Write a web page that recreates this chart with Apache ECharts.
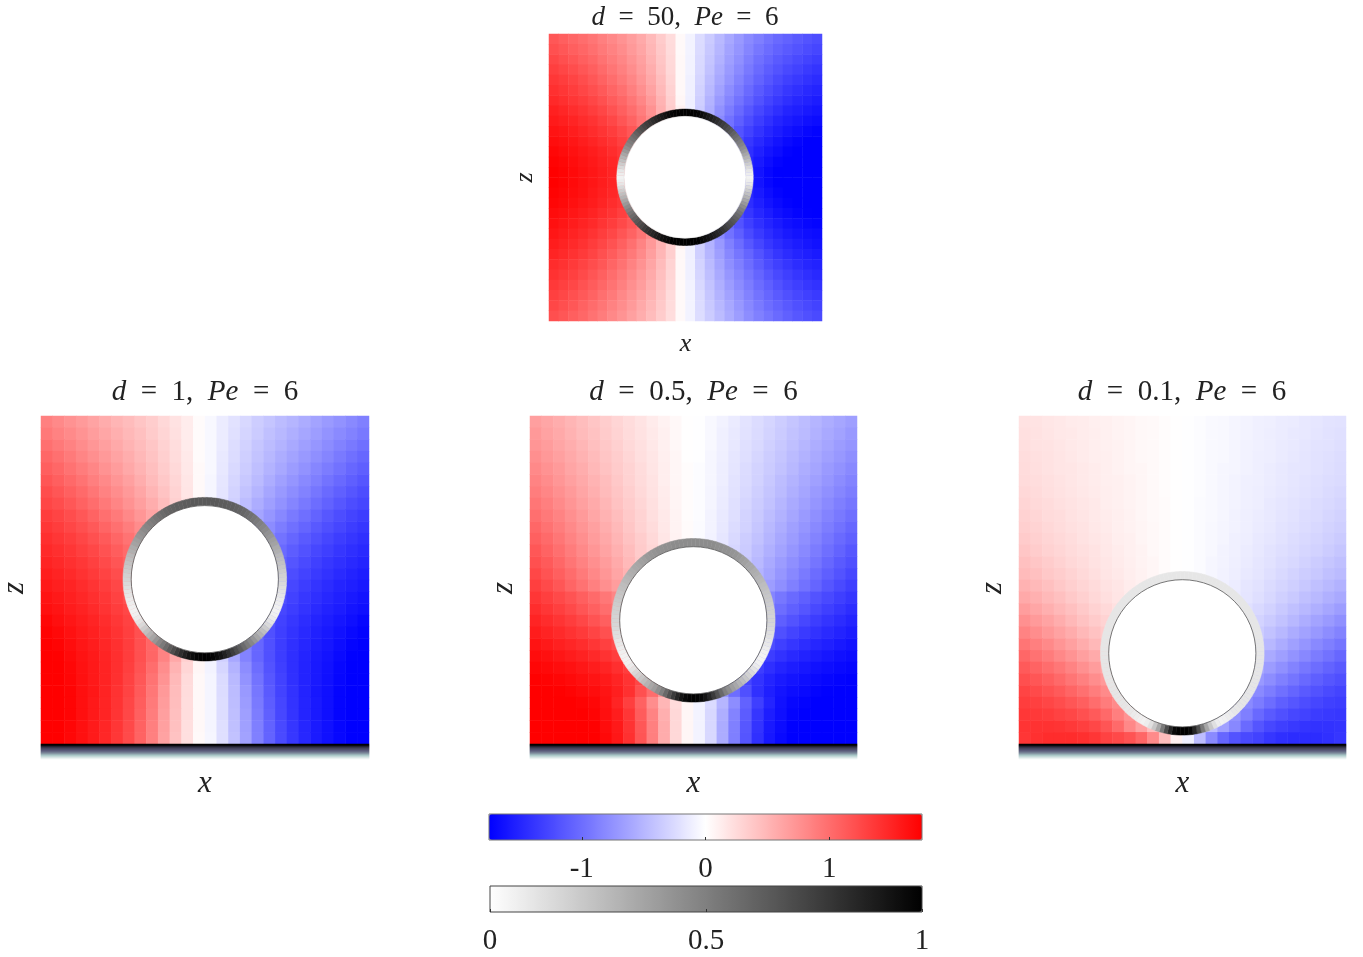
<!DOCTYPE html>
<html>
<head>
<meta charset="utf-8">
<title>d, Pe panels</title>
<script src="https://cdn.jsdelivr.net/npm/echarts@6/dist/echarts.min.js"></script>
<style>
  html, body { margin: 0; padding: 0; background: #fff; }
  #chart { width: 1363px; height: 957px; }
</style>
</head>
<body>
<div id="chart"></div>
<script>
// values, rows run top to bottom, red is positive
// the zeros sit under the white disc and never show
const fieldD50 = [
  [1.15,1.1,1.05,1,.95,.88,.82,.75,.67,.59,.48,.36,.24,.04,-.08,-.24,-.36,-.48,-.6,-.7,-.8,-.88,-.96,-1.03,-1.08,-1.13,-1.18,-1.22],
  [1.2,1.15,1.1,1.05,.99,.92,.86,.79,.7,.62,.5,.38,.25,.04,-.08,-.25,-.38,-.5,-.63,-.73,-.84,-.93,-1.01,-1.08,-1.13,-1.18,-1.23,-1.27],
  [1.26,1.21,1.16,1.1,1.04,.97,.9,.83,.74,.65,.53,.4,.26,.05,-.09,-.26,-.4,-.53,-.66,-.76,-.88,-.98,-1.06,-1.13,-1.19,-1.24,-1.29,-1.33],
  [1.32,1.27,1.22,1.16,1.1,1.02,.95,.87,.78,.68,.56,.42,.27,.05,-.09,-.27,-.42,-.56,-.69,-.8,-.92,-1.02,-1.11,-1.18,-1.25,-1.3,-1.35,-1.39],
  [1.37,1.33,1.28,1.22,1.15,1.08,1,.92,.83,.72,.6,.45,.29,.05,-.1,-.29,-.45,-.6,-.73,-.85,-.97,-1.07,-1.16,-1.24,-1.31,-1.36,-1.41,-1.45],
  [1.42,1.38,1.33,1.27,1.21,1.14,1.06,.98,.88,.77,.64,.48,.31,.05,-.1,-.31,-.48,-.64,-.78,-.9,-1.02,-1.13,-1.22,-1.3,-1.37,-1.42,-1.47,-1.5],
  [1.47,1.43,1.38,1.33,1.27,1.2,1.12,1.04,.94,.83,.69,.52,.33,.06,-.11,-.33,-.52,-.69,-.84,-.96,-1.08,-1.19,-1.28,-1.36,-1.43,-1.48,-1.52,-1.56],
  [1.53,1.49,1.44,1.39,1.33,1.27,1.19,1.1,1,.89,.75,.55,.35,.1,-.1,-.35,-.55,-.75,-.9,-1.03,-1.15,-1.26,-1.35,-1.43,-1.5,-1.54,-1.58,-1.61],
  [1.57,1.54,1.5,1.45,1.4,1.33,1.26,1.17,1.07,.95,.8,.6,.38,.12,-.12,-.38,-.6,-.8,-.97,-1.1,-1.22,-1.33,-1.42,-1.5,-1.56,-1.6,-1.64,-1.67],
  [1.62,1.59,1.55,1.5,1.45,1.39,1.33,1.25,1.15,1.02,.82,.6,0,0,0,0,-.6,-.85,-1.02,-1.18,-1.3,-1.4,-1.49,-1.56,-1.62,-1.66,-1.7,-1.73],
  [1.66,1.63,1.6,1.55,1.5,1.45,1.39,1.31,1.22,1.08,.88,0,0,0,0,0,0,-.88,-1.1,-1.24,-1.37,-1.47,-1.55,-1.62,-1.68,-1.72,-1.75,-1.75],
  [1.7,1.67,1.63,1.59,1.55,1.5,1.44,1.37,1.25,1.1,0,0,0,0,0,0,0,0,-1.12,-1.28,-1.43,-1.53,-1.61,-1.67,-1.73,-1.75,-1.75,-1.75],
  [1.73,1.7,1.66,1.62,1.58,1.53,1.48,1.41,1.28,1.15,0,0,0,0,0,0,0,0,-1.15,-1.3,-1.48,-1.58,-1.66,-1.72,-1.75,-1.75,-1.75,-1.75],
  [1.75,1.72,1.68,1.64,1.6,1.55,1.5,1.42,1.3,0,0,0,0,0,0,0,0,0,0,-1.32,-1.46,-1.62,-1.7,-1.75,-1.75,-1.75,-1.75,-1.75],
  [1.75,1.72,1.68,1.64,1.6,1.55,1.5,1.42,1.3,0,0,0,0,0,0,0,0,0,0,-1.32,-1.46,-1.62,-1.7,-1.75,-1.75,-1.75,-1.75,-1.75],
  [1.73,1.7,1.67,1.63,1.58,1.53,1.48,1.42,1.3,1.15,0,0,0,0,0,0,0,0,-1.15,-1.32,-1.48,-1.58,-1.66,-1.72,-1.75,-1.75,-1.75,-1.75],
  [1.71,1.68,1.64,1.6,1.56,1.5,1.44,1.38,1.26,1.12,0,0,0,0,0,0,0,0,-1.12,-1.28,-1.44,-1.54,-1.62,-1.68,-1.73,-1.75,-1.75,-1.75],
  [1.67,1.64,1.6,1.56,1.51,1.45,1.39,1.32,1.2,1.06,.85,0,0,0,0,0,0,-.85,-1.08,-1.25,-1.38,-1.48,-1.56,-1.63,-1.68,-1.72,-1.74,-1.75],
  [1.64,1.6,1.56,1.51,1.46,1.39,1.33,1.25,1.15,1.02,.82,0,0,0,0,0,0,-.82,-1.05,-1.18,-1.32,-1.42,-1.5,-1.57,-1.63,-1.67,-1.7,-1.72],
  [1.6,1.56,1.51,1.46,1.4,1.33,1.26,1.17,1.07,.95,.8,.6,0,0,0,0,-.6,-.8,-.97,-1.1,-1.24,-1.35,-1.44,-1.52,-1.58,-1.62,-1.65,-1.67],
  [1.55,1.51,1.46,1.41,1.34,1.27,1.19,1.09,.98,.85,.7,.52,.33,.08,-.1,-.33,-.52,-.7,-.87,-1.01,-1.15,-1.27,-1.37,-1.45,-1.51,-1.56,-1.6,-1.63],
  [1.5,1.46,1.41,1.35,1.28,1.2,1.12,1.02,.92,.8,.66,.5,.33,.05,-.1,-.33,-.5,-.66,-.82,-.94,-1.06,-1.18,-1.29,-1.38,-1.45,-1.5,-1.54,-1.57],
  [1.45,1.41,1.35,1.29,1.22,1.15,1.06,.97,.86,.75,.62,.47,.3,.05,-.1,-.3,-.47,-.62,-.77,-.88,-1,-1.12,-1.23,-1.31,-1.38,-1.44,-1.49,-1.52],
  [1.41,1.36,1.31,1.24,1.17,1.09,1,.91,.81,.7,.58,.44,.29,.05,-.1,-.29,-.44,-.58,-.72,-.83,-.95,-1.06,-1.16,-1.25,-1.32,-1.38,-1.43,-1.47],
  [1.36,1.31,1.26,1.19,1.12,1.04,.96,.87,.77,.67,.55,.41,.27,.04,-.09,-.27,-.41,-.55,-.68,-.79,-.9,-1.01,-1.1,-1.19,-1.26,-1.32,-1.37,-1.41],
  [1.31,1.26,1.2,1.14,1.07,.99,.91,.82,.73,.63,.52,.39,.25,.04,-.08,-.25,-.39,-.52,-.64,-.75,-.86,-.96,-1.05,-1.13,-1.2,-1.26,-1.31,-1.35],
  [1.26,1.21,1.15,1.08,1.01,.94,.86,.78,.69,.59,.49,.37,.24,.04,-.08,-.24,-.37,-.49,-.6,-.71,-.82,-.91,-1,-1.07,-1.14,-1.2,-1.25,-1.29],
  [1.21,1.16,1.1,1.04,.97,.9,.82,.74,.65,.56,.46,.35,.23,.04,-.08,-.23,-.35,-.46,-.57,-.67,-.78,-.87,-.95,-1.02,-1.09,-1.15,-1.2,-1.24]
];
const fieldD1 = [
  [.87,.81,.75,.69,.63,.57,.51,.46,.4,.34,.27,.2,.13,.03,-.05,-.13,-.2,-.27,-.34,-.4,-.46,-.51,-.57,-.63,-.69,-.75,-.81,-.87],
  [.92,.86,.8,.74,.67,.61,.55,.49,.43,.36,.29,.21,.13,.03,-.05,-.13,-.21,-.29,-.36,-.43,-.49,-.55,-.61,-.67,-.74,-.8,-.86,-.92],
  [.98,.92,.86,.79,.72,.66,.59,.52,.46,.39,.31,.23,.14,.03,-.05,-.14,-.23,-.31,-.39,-.46,-.52,-.59,-.66,-.72,-.79,-.86,-.92,-.98],
  [1.04,.98,.91,.84,.77,.7,.63,.56,.49,.41,.33,.24,.15,.03,-.05,-.15,-.24,-.33,-.41,-.49,-.56,-.63,-.7,-.77,-.84,-.91,-.98,-1.04],
  [1.1,1.04,.97,.9,.83,.75,.68,.6,.52,.44,.35,.26,.16,.04,-.05,-.16,-.26,-.35,-.44,-.52,-.6,-.68,-.75,-.83,-.9,-.97,-1.04,-1.1],
  [1.16,1.1,1.03,.96,.88,.81,.73,.65,.56,.47,.38,.28,.17,.04,-.06,-.17,-.28,-.38,-.47,-.56,-.65,-.73,-.81,-.88,-.96,-1.03,-1.1,-1.16],
  [1.22,1.16,1.09,1.02,.94,.86,.78,.7,.61,.51,.41,.3,.18,.04,-.06,-.18,-.3,-.41,-.51,-.61,-.7,-.78,-.86,-.94,-1.02,-1.09,-1.16,-1.22],
  [1.27,1.22,1.15,1.08,1,.92,.84,.75,.66,.56,.45,.32,.2,.06,-.08,-.2,-.32,-.45,-.56,-.66,-.75,-.84,-.92,-1,-1.08,-1.15,-1.22,-1.27],
  [1.33,1.28,1.22,1.15,1.07,.99,.91,.82,.72,.62,.5,.35,.2,.06,-.08,-.2,-.35,-.5,-.62,-.72,-.82,-.91,-.99,-1.07,-1.15,-1.22,-1.28,-1.33],
  [1.38,1.33,1.27,1.21,1.14,1.06,.98,.89,.79,.67,.52,.36,.2,0,0,-.2,-.36,-.52,-.67,-.79,-.89,-.98,-1.06,-1.14,-1.21,-1.27,-1.33,-1.38],
  [1.43,1.38,1.33,1.27,1.2,1.13,1.05,.96,.85,.72,.56,0,0,0,0,0,0,-.56,-.72,-.85,-.96,-1.05,-1.13,-1.2,-1.27,-1.33,-1.38,-1.43],
  [1.47,1.43,1.38,1.32,1.26,1.19,1.11,1.02,.9,.75,0,0,0,0,0,0,0,0,-.75,-.9,-1.02,-1.11,-1.19,-1.26,-1.32,-1.38,-1.43,-1.47],
  [1.51,1.47,1.42,1.37,1.31,1.24,1.17,1.08,.95,0,0,0,0,0,0,0,0,0,0,-.95,-1.08,-1.17,-1.24,-1.31,-1.37,-1.42,-1.47,-1.51],
  [1.55,1.51,1.46,1.41,1.35,1.29,1.22,1.13,1,0,0,0,0,0,0,0,0,0,0,-1,-1.13,-1.22,-1.29,-1.35,-1.41,-1.46,-1.51,-1.55],
  [1.58,1.54,1.5,1.45,1.39,1.33,1.26,1.17,1.05,0,0,0,0,0,0,0,0,0,0,-1.05,-1.17,-1.26,-1.33,-1.39,-1.45,-1.5,-1.54,-1.58],
  [1.62,1.58,1.53,1.48,1.43,1.37,1.3,1.21,1.1,0,0,0,0,0,0,0,0,0,0,-1.1,-1.21,-1.3,-1.37,-1.43,-1.48,-1.53,-1.58,-1.62],
  [1.65,1.61,1.56,1.52,1.46,1.4,1.33,1.26,1.14,1,0,0,0,0,0,0,0,0,-1,-1.14,-1.26,-1.33,-1.4,-1.46,-1.52,-1.56,-1.61,-1.65],
  [1.7,1.65,1.6,1.55,1.5,1.44,1.37,1.3,1.18,1.05,0,0,0,0,0,0,0,0,-1.05,-1.18,-1.3,-1.37,-1.44,-1.5,-1.55,-1.6,-1.65,-1.7],
  [1.73,1.69,1.63,1.58,1.53,1.47,1.4,1.32,1.2,1.06,.9,0,0,0,0,0,0,-.9,-1.06,-1.2,-1.32,-1.4,-1.47,-1.53,-1.58,-1.63,-1.69,-1.73],
  [1.75,1.72,1.66,1.6,1.55,1.49,1.42,1.33,1.2,1.05,.88,.65,0,0,0,0,-.65,-.88,-1.05,-1.2,-1.33,-1.42,-1.49,-1.55,-1.6,-1.66,-1.72,-1.75],
  [1.75,1.74,1.68,1.62,1.57,1.5,1.43,1.33,1.2,1.05,.85,.6,.32,.08,-.08,-.32,-.6,-.85,-1.05,-1.2,-1.33,-1.43,-1.5,-1.57,-1.62,-1.68,-1.74,-1.75],
  [1.75,1.75,1.7,1.63,1.58,1.51,1.43,1.32,1.18,1,.78,.52,.28,.06,-.08,-.28,-.52,-.78,-1,-1.18,-1.32,-1.43,-1.51,-1.58,-1.63,-1.7,-1.75,-1.75],
  [1.75,1.75,1.71,1.64,1.58,1.51,1.42,1.3,1.15,.96,.74,.48,.25,.05,-.07,-.25,-.48,-.74,-.96,-1.15,-1.3,-1.42,-1.51,-1.58,-1.64,-1.71,-1.75,-1.75],
  [1.75,1.75,1.72,1.65,1.59,1.51,1.41,1.29,1.13,.93,.7,.46,.24,.05,-.07,-.24,-.46,-.7,-.93,-1.13,-1.29,-1.41,-1.51,-1.59,-1.65,-1.72,-1.75,-1.75],
  [1.75,1.75,1.72,1.65,1.58,1.5,1.4,1.27,1.11,.91,.68,.45,.23,.05,-.07,-.23,-.45,-.68,-.91,-1.11,-1.27,-1.4,-1.5,-1.58,-1.65,-1.72,-1.75,-1.75],
  [1.75,1.75,1.72,1.65,1.58,1.5,1.39,1.26,1.09,.89,.66,.44,.23,.05,-.07,-.23,-.44,-.66,-.89,-1.09,-1.26,-1.39,-1.5,-1.58,-1.65,-1.72,-1.75,-1.75],
  [1.75,1.75,1.71,1.64,1.57,1.49,1.38,1.25,1.08,.88,.65,.43,.22,.05,-.07,-.22,-.43,-.65,-.88,-1.08,-1.25,-1.38,-1.49,-1.57,-1.64,-1.71,-1.75,-1.75],
  [1.75,1.75,1.7,1.64,1.57,1.48,1.37,1.24,1.07,.87,.64,.42,.22,.04,-.06,-.22,-.42,-.64,-.87,-1.07,-1.24,-1.37,-1.48,-1.57,-1.64,-1.7,-1.75,-1.75]
];
const fieldD05 = [
  [.66,.61,.56,.51,.45,.4,.34,.29,.24,.19,.14,.09,.05,.01,-.01,-.05,-.09,-.14,-.19,-.24,-.29,-.34,-.4,-.45,-.51,-.56,-.61,-.66],
  [.7,.64,.59,.53,.47,.42,.36,.3,.25,.2,.15,.1,.05,.01,-.01,-.05,-.1,-.15,-.2,-.25,-.3,-.36,-.42,-.47,-.53,-.59,-.64,-.7],
  [.73,.68,.62,.56,.5,.44,.38,.32,.26,.21,.16,.1,.05,.01,-.01,-.05,-.1,-.16,-.21,-.26,-.32,-.38,-.44,-.5,-.56,-.62,-.68,-.73],
  [.77,.71,.65,.59,.53,.47,.4,.34,.28,.22,.17,.11,.06,.01,-.01,-.06,-.11,-.17,-.22,-.28,-.34,-.4,-.47,-.53,-.59,-.65,-.71,-.77],
  [.81,.75,.69,.62,.56,.49,.42,.36,.3,.24,.18,.12,.06,.02,-.02,-.06,-.12,-.18,-.24,-.3,-.36,-.42,-.49,-.56,-.62,-.69,-.75,-.81],
  [.85,.79,.72,.65,.59,.52,.45,.38,.31,.25,.19,.12,.06,.02,-.02,-.06,-.12,-.19,-.25,-.31,-.38,-.45,-.52,-.59,-.65,-.72,-.79,-.85],
  [.89,.83,.76,.69,.62,.55,.47,.4,.33,.26,.2,.13,.07,.02,-.02,-.07,-.13,-.2,-.26,-.33,-.4,-.47,-.55,-.62,-.69,-.76,-.83,-.89],
  [.94,.88,.8,.73,.65,.58,.5,.42,.35,.28,.21,.14,.07,.02,-.02,-.07,-.14,-.21,-.28,-.35,-.42,-.5,-.58,-.65,-.73,-.8,-.88,-.94],
  [.99,.92,.85,.77,.69,.61,.53,.45,.37,.3,.22,.15,.08,.02,-.02,-.08,-.15,-.22,-.3,-.37,-.45,-.53,-.61,-.69,-.77,-.85,-.92,-.99],
  [1.04,.97,.89,.81,.73,.65,.56,.48,.39,.31,.24,.16,.08,.03,-.03,-.08,-.16,-.24,-.31,-.39,-.48,-.56,-.65,-.73,-.81,-.89,-.97,-1.04],
  [1.09,1.02,.94,.85,.77,.68,.6,.51,.42,.34,.26,.17,.09,.03,-.03,-.09,-.17,-.26,-.34,-.42,-.51,-.6,-.68,-.77,-.85,-.94,-1.02,-1.09],
  [1.15,1.07,.99,.9,.81,.72,.63,.54,.45,.36,.28,.19,.1,.03,-.03,-.1,-.19,-.28,-.36,-.45,-.54,-.63,-.72,-.81,-.9,-.99,-1.07,-1.15],
  [1.2,1.13,1.04,.95,.86,.77,.68,.58,.48,.38,.29,.2,0,0,0,0,-.2,-.29,-.38,-.48,-.58,-.68,-.77,-.86,-.95,-1.04,-1.13,-1.2],
  [1.26,1.18,1.1,1.01,.91,.82,.72,.62,.52,.42,0,0,0,0,0,0,0,0,-.42,-.52,-.62,-.72,-.82,-.91,-1.01,-1.1,-1.18,-1.26],
  [1.32,1.24,1.16,1.06,.97,.87,.77,.67,.57,.46,0,0,0,0,0,0,0,0,-.46,-.57,-.67,-.77,-.87,-.97,-1.06,-1.16,-1.24,-1.32],
  [1.38,1.32,1.25,1.18,1.1,1.02,.93,.83,.72,0,0,0,0,0,0,0,0,0,0,-.72,-.83,-.93,-1.02,-1.1,-1.18,-1.25,-1.32,-1.38],
  [1.44,1.38,1.32,1.25,1.17,1.09,1,.9,.78,0,0,0,0,0,0,0,0,0,0,-.78,-.9,-1,-1.09,-1.17,-1.25,-1.32,-1.38,-1.44],
  [1.5,1.45,1.39,1.33,1.26,1.18,1.1,1,.88,0,0,0,0,0,0,0,0,0,0,-.88,-1,-1.1,-1.18,-1.26,-1.33,-1.39,-1.45,-1.5],
  [1.56,1.51,1.46,1.41,1.35,1.28,1.2,1.1,.98,0,0,0,0,0,0,0,0,0,0,-.98,-1.1,-1.2,-1.28,-1.35,-1.41,-1.46,-1.51,-1.56],
  [1.62,1.58,1.53,1.49,1.44,1.38,1.31,1.22,1.1,0,0,0,0,0,0,0,0,0,0,-1.1,-1.22,-1.31,-1.38,-1.44,-1.49,-1.53,-1.58,-1.62],
  [1.67,1.64,1.6,1.56,1.52,1.47,1.41,1.33,1.22,1.1,0,0,0,0,0,0,0,0,-1.1,-1.22,-1.33,-1.41,-1.47,-1.52,-1.56,-1.6,-1.64,-1.67],
  [1.71,1.69,1.66,1.63,1.59,1.55,1.5,1.43,1.33,1.2,0,0,0,0,0,0,0,0,-1.2,-1.33,-1.43,-1.5,-1.55,-1.59,-1.63,-1.66,-1.69,-1.71],
  [1.74,1.73,1.71,1.68,1.65,1.61,1.57,1.5,1.4,1.27,1.1,0,0,0,0,0,0,-1.1,-1.27,-1.4,-1.5,-1.57,-1.61,-1.65,-1.68,-1.71,-1.73,-1.74],
  [1.75,1.75,1.74,1.72,1.69,1.66,1.61,1.54,1.42,1.2,1,.72,.4,.1,-.1,-.4,-.72,-1,-1.2,-1.42,-1.54,-1.61,-1.66,-1.69,-1.72,-1.74,-1.75,-1.75],
  [1.75,1.75,1.75,1.75,1.73,1.7,1.63,1.5,1.32,1.08,.78,.5,.25,.06,-.08,-.25,-.5,-.78,-1.08,-1.32,-1.5,-1.63,-1.7,-1.73,-1.75,-1.75,-1.75,-1.75],
  [1.75,1.75,1.75,1.75,1.75,1.72,1.65,1.55,1.38,1.12,.85,.55,.27,.06,-.08,-.27,-.55,-.85,-1.12,-1.38,-1.55,-1.65,-1.72,-1.75,-1.75,-1.75,-1.75,-1.75],
  [1.75,1.75,1.75,1.75,1.75,1.74,1.67,1.58,1.4,1.15,.87,.57,.27,.06,-.08,-.27,-.57,-.87,-1.15,-1.4,-1.58,-1.67,-1.74,-1.75,-1.75,-1.75,-1.75,-1.75],
  [1.75,1.75,1.75,1.75,1.75,1.75,1.69,1.59,1.42,1.17,.88,.57,.27,.06,-.08,-.27,-.57,-.88,-1.17,-1.42,-1.59,-1.69,-1.75,-1.75,-1.75,-1.75,-1.75,-1.75]
];
const fieldD01 = [
  [.2,.19,.17,.16,.14,.13,.11,.1,.08,.07,.05,.04,.02,.01,-.01,-.02,-.04,-.05,-.07,-.08,-.1,-.11,-.13,-.14,-.16,-.17,-.19,-.2],
  [.21,.2,.18,.16,.15,.13,.12,.1,.08,.07,.05,.04,.02,.01,-.01,-.02,-.04,-.05,-.07,-.08,-.1,-.12,-.13,-.15,-.16,-.18,-.2,-.21],
  [.22,.2,.19,.17,.15,.14,.12,.1,.09,.07,.05,.04,.02,.01,-.01,-.02,-.04,-.05,-.07,-.09,-.1,-.12,-.14,-.15,-.17,-.19,-.2,-.22],
  [.23,.21,.2,.18,.16,.14,.12,.11,.09,.07,.05,.04,.02,.01,-.01,-.02,-.04,-.05,-.07,-.09,-.11,-.12,-.14,-.16,-.18,-.2,-.21,-.23],
  [.24,.22,.2,.18,.17,.15,.13,.11,.09,.07,.06,.04,.02,.01,-.01,-.02,-.04,-.06,-.07,-.09,-.11,-.13,-.15,-.17,-.18,-.2,-.22,-.24],
  [.25,.23,.21,.19,.17,.15,.13,.11,.1,.08,.06,.04,.02,.01,-.01,-.02,-.04,-.06,-.08,-.1,-.11,-.13,-.15,-.17,-.19,-.21,-.23,-.25],
  [.27,.25,.22,.2,.18,.16,.14,.12,.1,.08,.06,.04,.02,.01,-.01,-.02,-.04,-.06,-.08,-.1,-.12,-.14,-.16,-.18,-.2,-.22,-.25,-.27],
  [.29,.26,.24,.21,.19,.17,.15,.12,.1,.08,.06,.04,.03,.01,-.01,-.03,-.04,-.06,-.08,-.1,-.12,-.15,-.17,-.19,-.21,-.24,-.26,-.29],
  [.31,.28,.25,.23,.2,.18,.15,.13,.11,.09,.06,.04,.03,.01,-.01,-.03,-.04,-.06,-.09,-.11,-.13,-.15,-.18,-.2,-.23,-.25,-.28,-.31],
  [.33,.3,.27,.24,.21,.19,.16,.14,.11,.09,.07,.05,.03,.01,-.01,-.03,-.05,-.07,-.09,-.11,-.14,-.16,-.19,-.21,-.24,-.27,-.3,-.33],
  [.36,.32,.29,.26,.23,.2,.17,.15,.12,.1,.07,.05,.03,.01,-.01,-.03,-.05,-.07,-.1,-.12,-.15,-.17,-.2,-.23,-.26,-.29,-.32,-.36],
  [.39,.35,.31,.28,.25,.22,.19,.16,.13,.1,.08,.05,.03,.01,-.01,-.03,-.05,-.08,-.1,-.13,-.16,-.19,-.22,-.25,-.28,-.31,-.35,-.39],
  [.43,.39,.35,.31,.27,.24,.2,.17,.14,.11,.08,.06,.03,.01,-.01,-.03,-.06,-.08,-.11,-.14,-.17,-.2,-.24,-.27,-.31,-.35,-.39,-.43],
  [.47,.43,.38,.34,.3,.26,.22,.18,.15,.12,.09,.06,.03,.01,-.01,-.03,-.06,-.09,-.12,-.15,-.18,-.22,-.26,-.3,-.34,-.38,-.43,-.47],
  [.53,.48,.43,.38,.33,.29,.25,.2,.17,.13,.1,.07,.04,.01,-.01,-.04,-.07,-.1,-.13,-.17,-.2,-.25,-.29,-.33,-.38,-.43,-.48,-.53],
  [.59,.54,.48,.43,.37,.32,.27,.22,.18,.14,.11,.08,0,0,0,0,-.08,-.11,-.14,-.18,-.22,-.27,-.32,-.37,-.43,-.48,-.54,-.59],
  [.67,.61,.55,.49,.43,.37,.31,.26,.21,.17,0,0,0,0,0,0,0,0,-.17,-.21,-.26,-.31,-.37,-.43,-.49,-.55,-.61,-.67],
  [.76,.69,.63,.56,.49,.42,.36,.3,.25,0,0,0,0,0,0,0,0,0,0,-.25,-.3,-.36,-.42,-.49,-.56,-.63,-.69,-.76],
  [.85,.78,.71,.64,.57,.49,.42,.35,.29,0,0,0,0,0,0,0,0,0,0,-.29,-.35,-.42,-.49,-.57,-.64,-.71,-.78,-.85],
  [.95,.88,.81,.73,.65,.57,.49,.41,.34,0,0,0,0,0,0,0,0,0,0,-.34,-.41,-.49,-.57,-.65,-.73,-.81,-.88,-.95],
  [1.04,.97,.9,.82,.74,.66,.58,.5,.42,0,0,0,0,0,0,0,0,0,0,-.42,-.5,-.58,-.66,-.74,-.82,-.9,-.97,-1.04],
  [1.13,1.07,1,.93,.85,.76,.68,.6,.5,0,0,0,0,0,0,0,0,0,0,-.5,-.6,-.68,-.76,-.85,-.93,-1,-1.07,-1.13],
  [1.21,1.16,1.1,1.03,.95,.87,.78,.7,.6,0,0,0,0,0,0,0,0,0,0,-.6,-.7,-.78,-.87,-.95,-1.03,-1.1,-1.16,-1.21],
  [1.28,1.24,1.19,1.13,1.06,.98,.89,.8,.7,.6,0,0,0,0,0,0,0,0,-.6,-.7,-.8,-.89,-.98,-1.06,-1.13,-1.19,-1.24,-1.28],
  [1.33,1.31,1.27,1.22,1.16,1.1,1,.9,.8,.68,.55,0,0,0,0,0,0,-.55,-.68,-.8,-.9,-1,-1.1,-1.16,-1.22,-1.27,-1.31,-1.33],
  [1.37,1.36,1.34,1.3,1.26,1.2,1.13,1.03,.88,.75,.62,.5,0,0,0,0,-.5,-.62,-.75,-.88,-1.03,-1.13,-1.2,-1.26,-1.3,-1.34,-1.36,-1.37],
  [1.39,1.41,1.41,1.39,1.36,1.32,1.26,1.17,1.02,.82,.65,.45,.2,.05,-.05,-.2,-.45,-.65,-.82,-1.02,-1.17,-1.26,-1.32,-1.36,-1.39,-1.41,-1.41,-1.39],
  [1.38,1.42,1.45,1.45,1.45,1.43,1.38,1.3,1.25,1.18,1.05,.8,.45,.1,-.1,-.45,-.8,-1.05,-1.18,-1.25,-1.3,-1.38,-1.43,-1.45,-1.45,-1.45,-1.42,-1.38]
];

// surface shading round each ring, every 3 degrees clockwise from the top, 0 white to 1 black
const ringD50 = [1,1,1,.99,.98,.96,.93,.9,.88,.85,.82,.79,.76,.73,.7,.66,.62,.58,.55,.51,.48,.44,.4,.35,.3,.25,.2,.15,.1,.07,.05,.07,.1,.15,.2,.25,.3,.35,.4,.45,.5,.54,.58,.62,.66,.69,.72,.76,.8,.83,.85,.88,.9,.93,.95,.97,1,1,1,1,1,1,1,1,1,.97,.95,.93,.9,.88,.85,.83,.8,.76,.72,.69,.66,.62,.58,.54,.5,.45,.4,.35,.3,.25,.2,.15,.1,.07,.05,.07,.1,.15,.2,.25,.3,.35,.4,.44,.48,.51,.55,.58,.62,.66,.7,.73,.76,.79,.82,.85,.88,.9,.93,.96,.98,.99,1,1];
const ringD1 = [.65,.65,.65,.65,.64,.64,.63,.63,.62,.61,.6,.58,.56,.54,.52,.5,.48,.46,.43,.41,.38,.36,.33,.31,.28,.26,.24,.22,.2,.18,.17,.15,.13,.11,.1,.08,.07,.06,.05,.06,.08,.11,.15,.2,.25,.3,.35,.41,.47,.52,.58,.64,.7,.76,.82,.87,.92,.95,.98,.99,1,.99,.98,.95,.92,.87,.82,.76,.7,.64,.58,.52,.47,.41,.35,.3,.25,.2,.15,.11,.08,.06,.05,.06,.07,.08,.1,.11,.13,.15,.17,.18,.2,.22,.24,.26,.28,.31,.33,.36,.38,.41,.43,.46,.48,.5,.52,.54,.56,.58,.6,.61,.62,.63,.63,.64,.64,.65,.65,.65];
const ringD05 = [.45,.45,.45,.45,.45,.45,.44,.44,.43,.43,.42,.41,.4,.38,.37,.35,.34,.32,.31,.29,.28,.26,.25,.23,.22,.21,.2,.19,.18,.17,.17,.16,.15,.13,.12,.1,.09,.07,.06,.05,.05,.06,.08,.11,.15,.18,.22,.26,.3,.34,.38,.44,.5,.59,.68,.77,.85,.92,.97,.99,1,.99,.97,.92,.85,.77,.68,.59,.5,.44,.38,.34,.3,.26,.22,.18,.15,.11,.08,.06,.05,.05,.06,.07,.09,.1,.12,.13,.15,.16,.17,.17,.18,.19,.2,.21,.22,.23,.25,.26,.28,.29,.31,.32,.34,.35,.37,.38,.4,.41,.42,.43,.43,.44,.44,.45,.45,.45,.45,.45];
const ringD01 = [.1,.1,.1,.1,.1,.1,.1,.1,.1,.1,.1,.1,.1,.1,.1,.1,.1,.1,.1,.1,.1,.1,.1,.1,.1,.1,.1,.1,.1,.1,.1,.1,.1,.1,.1,.1,.1,.1,.1,.1,.1,.1,.1,.1,.1,.09,.09,.08,.07,.06,.05,.07,.12,.22,.35,.52,.7,.85,.97,1,1,1,.97,.85,.7,.52,.35,.22,.12,.07,.05,.06,.07,.08,.09,.09,.1,.1,.1,.1,.1,.1,.1,.1,.1,.1,.1,.1,.1,.1,.1,.1,.1,.1,.1,.1,.1,.1,.1,.1,.1,.1,.1,.1,.1,.1,.1,.1,.1,.1,.1,.1,.1,.1,.1,.1,.1,.1,.1,.1];

// the wall strip under the lower panels, top to bottom
const wallShade = [0,.02,.12,.2,.26,.3,.34,.38,.44,.5,.58,.66,.74,.82,.92];

const fieldTicks = [-1, 0, 1];
const grayTicks = [0, 0.5, 1];

const titles = [['50', 685, 4, 27], ['1', 205, 378, 29], ['0.5', 693.5, 378, 29], ['0.1', 1182, 378, 29]];
const fields = [fieldD50, fieldD1, fieldD05, fieldD01];
const rings = [ringD50, ringD1, ringD05, ringD01];
// left, top, width, height of the field panels
const boxes = [[549, 34, 273, 287], [41, 416, 328, 328], [530, 416, 327, 328], [1019, 416, 327, 328]];
// centre x, centre y, inner radius, outer radius
const circles = [[685, 177.3, 61, 68.2], [204.8, 579.2, 73.6, 81.8], [693.3, 620.3, 73.6, 81.8], [1182.3, 653.3, 73.6, 81.8]];

const serif = '"Liberation Serif", "DejaVu Serif", serif';
const textColor = '#222';

function grayColor (v) {
  const g = Math.round(255 * (1 - v));
  return 'rgb(' + g + ',' + g + ',' + g + ')';
}

function rowsToCells (rows) {
  const cells = [];
  rows.forEach((row, r) => row.forEach((v, c) => cells.push([c, r, v])));
  return cells;
}

function indexList (n) {
  return Array.from({length: n}, (_, i) => i);
}

const grid = [];
const xAxis = [];
const yAxis = [];
const series = [];
const title = [];
const fieldSeries = [];
const wallSeries = [];

boxes.forEach((b, i) => {
  // field panel
  grid.push({left: b[0], top: b[1], width: b[2], height: b[3], outerBoundsMode: 'none'});
  xAxis.push({
    type: 'category', gridIndex: grid.length - 1, data: indexList(28),
    axisLine: {show: false}, axisTick: {show: false}, axisLabel: {show: false}, splitLine: {show: false},
    name: 'x', nameLocation: 'middle', nameGap: i === 0 ? 10 : 24,
    nameTextStyle: {fontFamily: serif, fontStyle: 'italic', fontSize: i === 0 ? 26 : 31, color: textColor}
  });
  yAxis.push({
    type: 'category', gridIndex: grid.length - 1, data: indexList(28), inverse: true,
    axisLine: {show: false}, axisTick: {show: false}, axisLabel: {show: false}, splitLine: {show: false},
    name: 'z', nameLocation: 'middle', nameGap: i === 0 ? 11 : 11,
    nameTextStyle: {
      fontFamily: serif, fontStyle: 'italic', fontSize: i === 0 ? 26 : 31, color: textColor,
      padding: i === 0 ? 0 : [0, 16, 0, 0]
    }
  });
  fieldSeries.push(series.length);
  series.push({
    type: 'heatmap', xAxisIndex: grid.length - 1, yAxisIndex: grid.length - 1,
    data: rowsToCells(fields[i]), silent: true, z: 2, progressive: 0
  });

  // wall strip, only in the three lower panels
  if (i > 0) {
    grid.push({left: b[0], top: b[1] + b[3], width: b[2], height: 15, outerBoundsMode: 'none'});
    xAxis.push({type: 'category', gridIndex: grid.length - 1, data: [0], show: false});
    yAxis.push({type: 'category', gridIndex: grid.length - 1, data: indexList(wallShade.length), inverse: true, show: false});
    wallSeries.push(series.length);
    series.push({
      type: 'heatmap', xAxisIndex: grid.length - 1, yAxisIndex: grid.length - 1,
      data: wallShade.map((v, r) => [0, r, v]), silent: true, z: 2
    });
  }

  // shaded ring and the white inside of it
  const c = circles[i];
  series.push({
    type: 'pie', center: [c[0], c[1]], radius: [c[2], c[3]], startAngle: 91.5, silent: true, z: 5,
    animation: false, label: {show: false}, labelLine: {show: false}, avoidLabelOverlap: false,
    data: rings[i].map(v => ({
      value: 1,
      itemStyle: {color: grayColor(v), borderColor: grayColor(v), borderWidth: 0.5}
    }))
  });
  series.push({
    type: 'pie', center: [c[0], c[1]], radius: [0, c[2]], silent: true, z: 6,
    animation: false, label: {show: false}, labelLine: {show: false},
    data: [{value: 1, itemStyle: {color: '#fff', borderColor: i === 0 ? '#ddd' : '#555', borderWidth: i === 0 ? 0.5 : 0.8}}]
  });
});

titles.forEach(t => {
  title.push({
    text: '{i|d}{n|\u2002=\u2002' + t[0] + ',\u2002}{i|Pe}{n|\u2002=\u20026}',
    left: t[1], top: t[2], textAlign: 'center', padding: 0,
    textStyle: {
      rich: {
        i: {fontFamily: serif, fontStyle: 'italic', fontWeight: 'normal', fontSize: t[3], color: textColor},
        n: {fontFamily: serif, fontWeight: 'normal', fontSize: t[3], color: textColor}
      }
    }
  });
});

// colour bar frames and tick labels sit on top of the visualMap bars
const barFrames = [
  {box: [489, 814, 433, 26], min: -1.75, max: 1.75, ticks: fieldTicks, border: '#777'},
  {box: [490, 886, 432, 26], min: 0, max: 1, ticks: grayTicks, border: '#444'}
];
barFrames.forEach(f => {
  grid.push({
    left: f.box[0], top: f.box[1], width: f.box[2], height: f.box[3], z: 10, outerBoundsMode: 'none',
    show: true, backgroundColor: 'transparent', borderColor: f.border, borderWidth: 1
  });
  xAxis.push({
    type: 'value', gridIndex: grid.length - 1, min: f.min, max: f.max, z: 10,
    axisLine: {show: false}, splitLine: {show: false},
    axisTick: {show: true, inside: true, length: 3, customValues: f.ticks, lineStyle: {color: '#333'}},
    axisLabel: {
      customValues: f.ticks, margin: 15, fontFamily: serif, fontSize: 29, color: textColor,
      showMinLabel: true, showMaxLabel: true
    }
  });
  yAxis.push({type: 'value', gridIndex: grid.length - 1, min: 0, max: 1, show: false, splitLine: {show: false}});
});

const option = {
  animation: false,
  backgroundColor: '#fff',
  title: title,
  grid: grid,
  xAxis: xAxis,
  yAxis: yAxis,
  visualMap: [
    {
      type: 'continuous', seriesIndex: fieldSeries, min: -1.75, max: 1.75, orient: 'horizontal',
      left: 489, top: 814, itemWidth: 26, itemHeight: 433, padding: 0, calculable: false, z: 4,
      inRange: {color: ['#0000ff', '#ffffff', '#ff0000']}
    },
    {
      type: 'continuous', seriesIndex: [], min: 0, max: 1, orient: 'horizontal',
      left: 490, top: 886, itemWidth: 26, itemHeight: 432, padding: 0, calculable: false, z: 4,
      inRange: {color: ['#ffffff', '#000000']}
    },
    {
      type: 'continuous', seriesIndex: wallSeries, min: 0, max: 1, show: false,
      inRange: {color: ['#000000', '#545474', '#a9c8c8', '#ffffff']}
    }
  ],
  series: series
};

const myChart = echarts.init(document.getElementById('chart'));
myChart.setOption(option);
</script>
</body>
</html>
